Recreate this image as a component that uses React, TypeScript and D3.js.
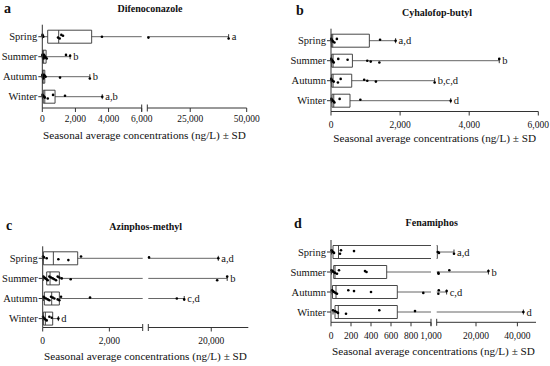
import React from 'react';
import * as d3 from 'd3';

const seasons = ['Spring', 'Summer', 'Autumn', 'Winter'];
const axisTitle = 'Seasonal average concentrations (ng/L) \u00b1 SD';

// Panel a — Difenoconazole
const difenoPoints = [
  [10, 30, 60, 950, 1050, 1150, 1250, 3600, 6500, 42000],
  [5, 20, 40, 60, 80, 100, 130, 160, 200, 270, 1430, 1680],
  [5, 15, 30, 50, 70, 100, 150, 200, 1070, 2870],
  [10, 60, 120, 150, 330, 650, 1370, 3620],
];
const difenoQ1 = [326, 20, 15, 60];
const difenoMedian = [990, 80, 50, 150];
const difenoQ3 = [2980, 230, 150, 770];
const difenoLetters = ['a', 'b', 'b', 'a,b'];
const difenoTicks = [[0, 2000, 4000, 6000], [25000, 50000]];

// Panel b — Cyhalofop-butyl
const cyhaloPoints = [
  [5, 20, 40, 60, 100, 170, 1420, 1870],
  [5, 20, 40, 60, 80, 210, 480, 1050, 1150, 1400, 4870],
  [5, 20, 40, 80, 200, 280, 960, 1050, 1300, 3000],
  [10, 30, 50, 80, 100, 250, 850, 3465],
];
const cyhaloQ1 = [10, 20, 20, 30];
const cyhaloMedian = [50, 60, 60, 80];
const cyhaloQ3 = [1110, 620, 600, 550];
const cyhaloLetters = ['a,d', 'b', 'b,c,d', 'd'];
const cyhaloTicks = [[0, 2000, 4000, 6000]];

// Panel c — Azinphos-methyl
const azinPoints = [
  [10, 40, 120, 470, 770, 1150, 3200, 21900],
  [20, 50, 80, 120, 150, 200, 250, 300, 350, 400, 450, 500, 570, 840, 21600, 24300],
  [20, 50, 100, 150, 200, 250, 300, 350, 450, 500, 550, 1420, 10700, 12700],
  [10, 20, 50, 80, 120, 200, 270, 470],
];
const azinQ1 = [20, 120, 50, 20];
const azinMedian = [320, 220, 270, 80];
const azinQ3 = [1050, 500, 500, 300];
const azinLetters = ['a,d', 'b', 'c,d', 'd'];
const azinTicks = [[0, 2000], [20000]];

// Panel d — Fenamiphos
const fenaPoints = [
  [5, 10, 20, 30, 90, 100, 230, 1500, 2100, 9360],
  [5, 15, 25, 40, 60, 80, 340, 355, 1800, 1900, 7100, 26000],
  [10, 20, 30, 45, 60, 173, 230, 400, 923, 1800, 2000, 5800],
  [20, 40, 55, 70, 150, 483, 840, 42900],
];
const fenaQ1 = [20, 27, 15, 40];
const fenaMedian = [75, 40, 50, 73];
const fenaQ3 = [1300, 557, 663, 663];
const fenaLetters = ['a,d', 'b', 'c,d', 'd'];
const fenaTicks = [[0, 200, 400, 600, 800, 1000], [20000, 40000]];

const SERIF = "'Liberation Serif', 'DejaVu Serif', serif";
const INK = '#333';

type Seg = { domain: [number, number]; range: [number, number] };

type PanelProps = {
  title: string;
  letter: string;
  points: number[][];
  q1: number[];
  med: number[];
  q3: number[];
  letters: string[];
  ticks: number[][];
  segs: Seg[];
  rowY0: number;
  rowStep: number;
  axisY: number;
  titleX: number;
  titleY: number;
  letterX: number;
  letterY: number;
  tickLabelY: number;
  axisLabelY: number;
};

const T = (props: any) => <text {...props} style={{ fontFamily: SERIF }} />;

function Panel(p: PanelProps) {
  const scales = p.segs.map((s) => d3.scaleLinear().domain(s.domain).range(s.range));
  const sc = (v: number) => {
    for (let i = 0; i < p.segs.length; i++) {
      if (v <= p.segs[i].domain[1] || i === p.segs.length - 1) return scales[i](v);
    }
    return 0;
  };
  const pieces = (a: number, b: number) =>
    p.segs
      .map((s, i) => {
        const lo = Math.max(a, s.domain[0]);
        const hi = Math.min(b, s.domain[1]);
        return lo <= hi ? { i, x0: scales[i](lo), x1: scales[i](hi), hasLo: a >= s.domain[0], hasHi: b <= s.domain[1] } : null;
      })
      .filter((d) => d !== null) as { i: number; x0: number; x1: number; hasLo: boolean; hasHi: boolean }[];

  const x0 = p.segs[0].range[0];
  const yTop = p.rowY0 - 12;
  const yb = d3.scalePoint<string>().domain(seasons).range([p.rowY0, p.rowY0 + p.rowStep * 3]);
  const bh = 6.5;
  const midX = (p.segs[0].range[0] + p.segs[p.segs.length - 1].range[1]) / 2;

  return (
    <g>
      <T x={p.letterX} y={p.letterY} fontSize={14} fontWeight="bold" fill="#111">{p.letter}</T>
      <T x={p.titleX} y={p.titleY} fontSize={10} fontWeight="bold" textAnchor="middle" fill="#111">{p.title}</T>

      {seasons.map((s, k) => {
        const y = yb(s)!;
        const vals = p.points[k];
        const mn = d3.min(vals)!;
        const mx = d3.max(vals)!;
        const wh = pieces(mn, mx);
        const bx = pieces(p.q1[k], p.q3[k]);
        const sorted = [...vals].sort((a, b) => a - b);
        return (
          <g key={s}>
            {wh.map((w, j) => (
              <line key={'w' + j} x1={w.x0} x2={w.x1} y1={y} y2={y} stroke="#555" strokeWidth={0.9} />
            ))}
            <line x1={sc(mn)} x2={sc(mn)} y1={y - 2.5} y2={y + 2.5} stroke={INK} strokeWidth={1} />
            <line x1={sc(mx)} x2={sc(mx)} y1={y - 2.5} y2={y + 2.5} stroke={INK} strokeWidth={1} />
            {bx.map((b, j) => (
              <g key={'b' + j}>
                <rect x={b.x0} y={y - bh} width={Math.max(0, b.x1 - b.x0)} height={bh * 2} fill="#fff" />
                <line x1={b.x0} x2={b.x1} y1={y - bh} y2={y - bh} stroke={INK} strokeWidth={0.9} />
                <line x1={b.x0} x2={b.x1} y1={y + bh} y2={y + bh} stroke={INK} strokeWidth={0.9} />
                {b.hasLo && <line x1={b.x0} x2={b.x0} y1={y - bh} y2={y + bh} stroke={INK} strokeWidth={0.9} />}
                {b.hasHi && <line x1={b.x1} x2={b.x1} y1={y - bh} y2={y + bh} stroke={INK} strokeWidth={0.9} />}
              </g>
            ))}
            <line x1={sc(p.med[k])} x2={sc(p.med[k])} y1={y - bh} y2={y + bh} stroke={INK} strokeWidth={0.9} />
            {sorted.map((v, j) => (
              <circle key={'p' + j} cx={sc(v)} cy={y + ((j % 5) - 2) * 0.9} r={1.3} fill="#000" />
            ))}
            <T x={sc(mx) + 3} y={y + 3.5} fontSize={10.5} fill="#111">{p.letters[k]}</T>
          </g>
        );
      })}

      {/* y axis */}
      <line x1={x0} x2={x0} y1={yTop} y2={p.axisY} stroke={INK} strokeWidth={1} />
      {seasons.map((s) => (
        <g key={'yt' + s}>
          <line x1={x0 - 4} x2={x0} y1={yb(s)!} y2={yb(s)!} stroke={INK} strokeWidth={1} />
          <T x={x0 - 5} y={yb(s)! + 3.5} fontSize={10.5} textAnchor="end" fill="#111">{s}</T>
        </g>
      ))}

      {/* x axis */}
      {p.segs.map((s, i) => (
        <g key={'seg' + i}>
          <line x1={s.range[0]} x2={s.range[1]} y1={p.axisY} y2={p.axisY} stroke={INK} strokeWidth={1} />
          {i > 0 && <line x1={s.range[0]} x2={s.range[0]} y1={p.axisY - 3.5} y2={p.axisY + 3.5} stroke={INK} strokeWidth={1} />}
          {i < p.segs.length - 1 && <line x1={s.range[1]} x2={s.range[1]} y1={p.axisY - 3.5} y2={p.axisY + 3.5} stroke={INK} strokeWidth={1} />}
          {p.ticks[i].map((t) => (
            <g key={'t' + t}>
              <line x1={scales[i](t)} x2={scales[i](t)} y1={p.axisY} y2={p.axisY + 4} stroke={INK} strokeWidth={1} />
              <T x={scales[i](t)} y={p.tickLabelY} fontSize={9.5} textAnchor="middle" fill="#111">{d3.format(',')(t)}</T>
            </g>
          ))}
        </g>
      ))}
      <T x={midX} y={p.axisLabelY} fontSize={11.2} textAnchor="middle" fill="#111">{axisTitle}</T>
    </g>
  );
}

export default function App() {
  return (
    <svg width={550} height={366} style={{ position: 'absolute', left: 0, top: 0, background: '#fff' }}>
      <rect width={550} height={366} fill="#fff" />
      <Panel
        title="Difenoconazole" letter="a"
        points={difenoPoints} q1={difenoQ1} med={difenoMedian} q3={difenoQ3} letters={difenoLetters} ticks={difenoTicks}
        segs={[{ domain: [0, 6000], range: [42.3, 141.7] }, { domain: [6000, 50000], range: [147.3, 246.7] }]}
        rowY0={36.7} rowStep={20} axisY={108}
        titleX={150} titleY={11.5} letterX={4} letterY={13}
        tickLabelY={121.5} axisLabelY={139}
      />
      <Panel
        title="Cyhalofop-butyl" letter="b"
        points={cyhaloPoints} q1={cyhaloQ1} med={cyhaloMedian} q3={cyhaloQ3} letters={cyhaloLetters} ticks={cyhaloTicks}
        segs={[{ domain: [0, 6000], range: [331, 538.3] }]}
        rowY0={40.7} rowStep={20} axisY={111.5}
        titleX={437} titleY={16} letterX={296} letterY={15}
        tickLabelY={127.5} axisLabelY={142}
      />
      <Panel
        title="Azinphos-methyl" letter="c"
        points={azinPoints} q1={azinQ1} med={azinMedian} q3={azinQ3} letters={azinLetters} ticks={azinTicks}
        segs={[{ domain: [0, 3000], range: [42.7, 142.7] }, { domain: [3000, 30000], range: [148.3, 248.3] }]}
        rowY0={258.3} rowStep={20.1} axisY={327.5}
        titleX={145.7} titleY={230} letterX={6} letterY={230}
        tickLabelY={343.5} axisLabelY={359.5}
      />
      <Panel
        title="Fenamiphos" letter="d"
        points={fenaPoints} q1={fenaQ1} med={fenaMedian} q3={fenaQ3} letters={fenaLetters} ticks={fenaTicks}
        segs={[{ domain: [0, 1000], range: [331, 431] }, { domain: [1000, 49000], range: [436.7, 536] }]}
        rowY0={252} rowStep={20} axisY={322.3}
        titleX={431.7} titleY={226} letterX={294} letterY={228}
        tickLabelY={338.5} axisLabelY={354.5}
      />
    </svg>
  );
}
